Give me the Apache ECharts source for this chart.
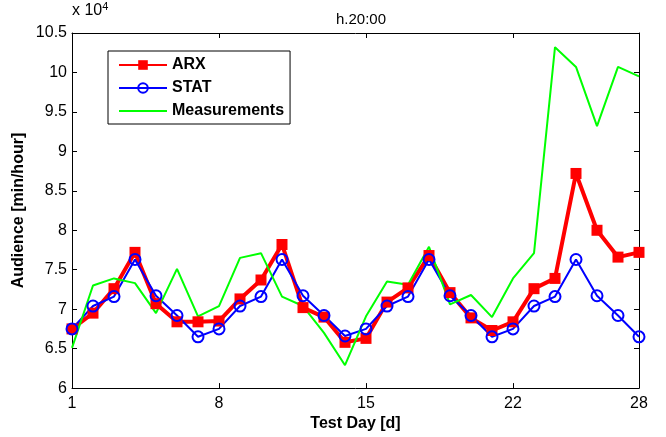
<!DOCTYPE html>
<html><head><meta charset="utf-8">
<script src="https://cdn.jsdelivr.net/npm/echarts@6/dist/echarts.min.js"></script>
<style>html,body{margin:0;padding:0;background:#fff}#c{width:666px;height:437px}</style>
</head><body><div id="c"></div>
<script>
const days = ['1','2','3','4','5','6','7','8','9','10','11','12','13','14','15','16','17','18','19','20','21','22','23','24','25','26','27','28'];
const arx = [67500,69500,72600,77200,70700,68400,68400,68500,71300,73700,78200,70200,69000,65800,66300,70900,72700,76800,72100,68900,67300,68400,72600,73900,87200,80000,76600,77200];
const stat = [67500,70400,71600,76300,71700,69200,66500,67500,70400,71600,76300,71700,69200,66600,67500,70400,71600,76300,71700,69200,66500,67500,70400,71600,76300,71700,69200,66500];
const meas = [65100,73000,73900,73300,69500,75100,69100,70400,76500,77100,71600,70400,67000,62900,69100,73500,73100,77900,70600,71800,69000,73900,77100,103200,100700,93200,100700,99500];
const yTicks = {min:60000, max:105000, step:5000};
const labelIdx = [0,7,14,21,27];
const font = 'Liberation Sans, Arial, sans-serif';

const chart = echarts.init(document.getElementById('c'));
const showIdx = (i) => labelIdx.indexOf(i) >= 0;
chart.setOption({
  animation:false,
  textStyle:{fontFamily:font},
  title:{text:'h.20:00', left:356, top:7, textAlign:'center', textStyle:{fontSize:15, fontWeight:'normal', color:'#000', fontFamily:font}},
  graphic:[{type:'text', left:72, top:1, style:{text:'x 10{s|4}', fill:'#000', font:'16px '+font, rich:{s:{fontSize:11, verticalAlign:'top', padding:[0,0,9,0], fill:'#000'}}}}],
  legend:{
    left:108, top:51, orient:'vertical', itemWidth:48, itemHeight:12, itemGap:7,
    padding:[6,6,5,10], borderColor:'#000', borderWidth:1, backgroundColor:'#fff',
    textStyle:{fontSize:16, fontWeight:'bold', color:'#000', fontFamily:font},
    data:['ARX','STAT',{name:'Measurements', itemStyle:{color:'rgba(0,0,0,0)', borderColor:'rgba(0,0,0,0)', borderWidth:0}}]
  },
  grid:{left:72, right:27, top:33, bottom:46, containLabel:false},
  xAxis:[{
    type:'category', data:days, boundaryGap:false,
    name:'Test Day [d]', nameLocation:'middle', nameGap:24,
    nameTextStyle:{fontSize:16, fontWeight:'bold', color:'#000', fontFamily:font},
    axisLine:{lineStyle:{color:'#000', width:1}},
    axisTick:{inside:true, length:5, interval:showIdx, lineStyle:{color:'#000'}},
    axisLabel:{interval:showIdx, fontSize:16, color:'#000', margin:7, fontFamily:font},
    splitLine:{show:false}
  },{
    type:'category', data:days, boundaryGap:false, position:'top',
    axisLine:{lineStyle:{color:'#000', width:1}},
    axisTick:{inside:true, length:5, interval:showIdx, lineStyle:{color:'#000'}},
    axisLabel:{show:false}, splitLine:{show:false}
  }],
  yAxis:[{
    type:'value', min:yTicks.min, max:yTicks.max, interval:yTicks.step,
    name:'Audience [min/hour]', nameLocation:'middle', nameGap:45, nameRotate:90, nameMoveOverlap:false,
    nameTextStyle:{fontSize:16, fontWeight:'bold', color:'#000', fontFamily:font},
    axisLine:{show:true, lineStyle:{color:'#000', width:1}},
    axisTick:{show:true, inside:true, length:5, lineStyle:{color:'#000'}},
    axisLabel:{fontSize:16, color:'#000', margin:5, fontFamily:font, formatter:(v)=>String(v/10000)},
    splitLine:{show:false}
  },{
    type:'value', min:yTicks.min, max:yTicks.max, interval:yTicks.step, position:'right',
    axisLine:{show:true, lineStyle:{color:'#000', width:1}},
    axisTick:{show:true, inside:true, length:5, lineStyle:{color:'#000'}},
    axisLabel:{show:false}, splitLine:{show:false}
  }],
  series:[
    {name:'ARX', type:'line', data:arx, symbol:'rect', symbolSize:11, color:'#ff0000',
     lineStyle:{color:'#ff0000', width:4}, itemStyle:{color:'#ff0000'}},
    {name:'STAT', type:'line', data:stat, symbol:'circle', symbolSize:11, color:'#0000ff',
     lineStyle:{color:'#0000ff', width:2}, itemStyle:{color:'rgba(255,255,255,0)', borderColor:'#0000ff', borderWidth:2}},
    {name:'Measurements', type:'line', data:meas, symbol:'none', color:'#00ff00',
     lineStyle:{color:'#00ff00', width:2}}
  ]
});
</script></body></html>
